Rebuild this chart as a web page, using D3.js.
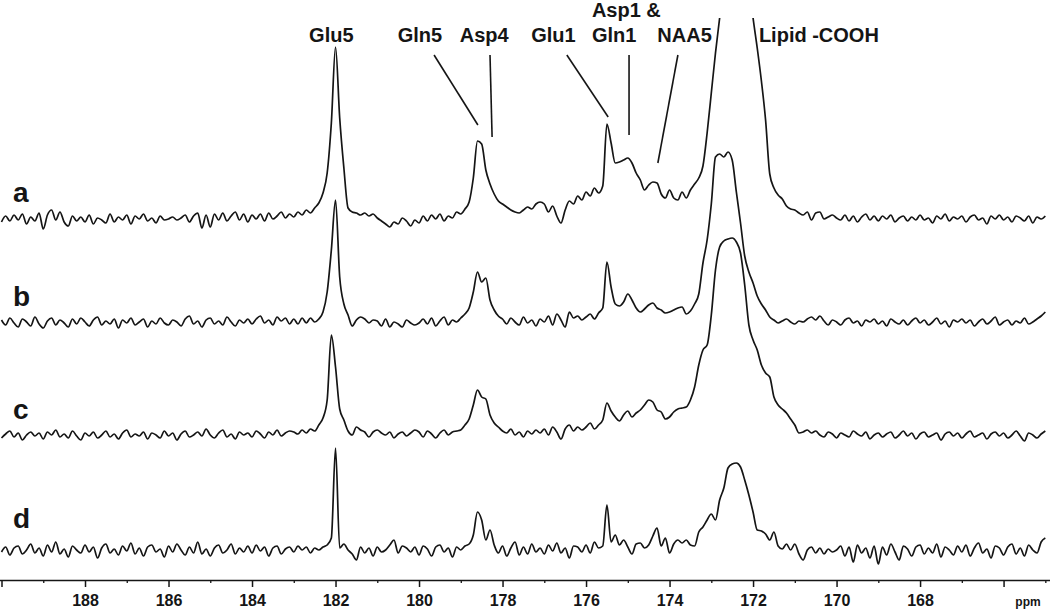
<!DOCTYPE html>
<html>
<head>
<meta charset="utf-8">
<script src="https://cdn.jsdelivr.net/npm/d3@7"></script>
<style>
  html, body { margin: 0; padding: 0; background: #fff; }
  svg { display: block; font-family: "Liberation Sans", Arial, sans-serif; }
</style>
</head>
<body>
<svg id="chart" width="1050" height="610"></svg>
<script>
// ---- Data ----
// Chemical-shift sampling grid: 190.0 ppm down to 165.0 ppm, 0.1 ppm steps
const ppmStart = 190.0;
const ppmStep = 0.1;

// Intensities (arbitrary units above each trace's baseline)
const traceA = [
  -4, 2, -3, 3, -2, 4, -6, 1, -3, 5,
  -11, 3, 8, -2, 6, -4, -8, 2, -3, 1,
  -4, 3, -6, 0, -2, -5, 4, -4, 1, -2,
  3, -6, 2, -1, 4, -3, 0, -5, 2, -2,
  -1, 1, -2, 0, 3, -4, 2, 5, -10, 3,
  -9, 4, -2, 5, -3, 2, 6, -2, 4, -4,
  3, -1, 4, -3, 5, -1, 2, 6, 0, 4,
  1, 6, 3, 8, 5, 10, 15, 25, 45, 95,
  171, 100, 50, 10, 6, 5, 3, 5, 2, 4,
  0, -3, -6, -9, -4, -6, 0, -3, -8, -2,
  -5, 2, -3, 3, -1, 4, -3, 2, 0, 6,
  4, 9, 16, 40, 77, 74, 48, 34, 24, 17,
  14, 11, 8, 6, 5, 8, 11, 9, 14, 16,
  14, 6, 12, 2, -5, 8, 17, 14, 22, 18,
  26, 22, 30, 25, 32, 94, 75, 55, 56, 58,
  60, 55, 45, 38, 28, 33, 36, 35, 24, 20,
  28, 20, 18, 26, 20, 28, 34, 40, 52, 85,
  125, 165, 200, 235, 270, 290, 300, 285, 265, 235,
  200, 170, 137, 98, 44, 30, 23, 19, 12, 9,
  8, 5, 3, 6, -2, 5, 6, -1, 1, 3,
  0, -2, 3, -3, 2, -4, 1, 4, -2, 2,
  -3, 2, -1, 3, -4, 0, 2, -3, 1, -2,
  3, -2, 0, -5, 2, -1, 4, -3, 1, -1,
  2, -4, 1, 3, -2, 0, -6, 2, -1, 3,
  -2, 1, -4, 2, 0, -3, 2, -5, 1, -1, 2
];
const traceB = [
  2, -3, 4, -1, -5, 3, 0, -4, 5, -2,
  -6, 1, 4, -3, 2, -1, -5, 3, -2, 4,
  0, -4, 2, 5, -3, 1, -2, 3, -6, 2,
  -1, 4, -3, 0, 3, -5, 1, -2, 4, -1,
  -3, 2, 0, -4, 3, 6, -2, 1, -5, 2,
  4, -2, 1, -3, 5, 0, -4, 2, -1, 3,
  -2, 3, 6, -1, 2, -3, 5, 1, 4, -2,
  3, -2, 4, -1, 4, 0, 3, 10, 30, 72,
  122, 45, 18, 7, -4, 2, 5, 3, -1, 2,
  1, -4, 3, -5, 0, -2, -5, 2, -1, -3,
  -1, 3, -2, 4, -4, 1, 5, -3, 2, 0,
  4, 8, 14, 30, 50, 40, 44, 22, 12, 6,
  3, -2, 4, 0, -3, 5, -1, 2, -4, 3,
  0, 6, -3, 8, 2, -5, 10, 4, 6, 2,
  5, 8, 3, 9, 14, 60, 35, 18, 16, 20,
  28, 22, 14, 10, 13, 17, 19, 14, 12, 9,
  10, 12, 14, 15, 8, 11, 18, 28, 59, 82,
  118, 165, 168, 165, 170, 162, 130, 99, 66, 50,
  39, 26, 18, 12, 5, 2, -1, 1, 3, 0,
  -2, 1, 0, 3, 5, 2, 6, 1, -3, 2,
  0, -3, 2, 4, -1, 1, -4, 2, 0, 3,
  -2, 1, -4, 3, 0, -2, 2, -3, 1, 4,
  -1, 2, -3, 0, 4, -2, 1, -5, 2, 0,
  3, -1, 2, -4, 0, 3, -2, 1, 5, -3,
  0, 2, -3, 1, -1, 4, -2, 0, 3, 6, 10
];
const traceC = [
  -3, 1, 4, -2, 2, -5, 0, 3, -1, 2,
  -4, 3, 0, 5, -2, 1, -3, 4, -1, -5,
  2, -1, 3, -3, 0, 4, -2, 1, -4, 2,
  5, -2, 1, -1, 3, -4, 2, 0, -3, 4,
  -1, 2, -5, 1, 4, -2, 0, 3, -1, 6,
  0, -3, 2, 5, -2, 1, -4, 3, 0, 2,
  -2, 4, 1, -3, 3, 0, 5, -1, 2, 4,
  3, 1, 5, 2, 6, 4, 10, 17, 35, 100,
  68, 26, 15, 4, 0, 8, 5, 3, -2, 3,
  5, 2, 0, 3, -3, 1, 3, -1, 2, 5,
  3, -2, 4, 1, -3, 2, 5, 0, 3, 4,
  5, 10, 16, 30, 45, 38, 36, 20, 12, 8,
  4, 2, 6, 0, 3, -2, 4, 1, 5, 2,
  6, 0, 8, 3, -4, 6, 10, 4, 8, 5,
  8, 12, 6, 10, 15, 32, 24, 18, 14, 20,
  24, 18, 22, 25, 30, 35, 33, 25, 23, 16,
  18, 23, 26, 27, 28, 35, 48, 70, 85, 90,
  120, 165, 188, 194, 196, 197, 193, 182, 150, 110,
  95, 85, 70, 62, 58, 38, 30, 26, 22, 16,
  10, 2, 3, 5, 2, 4, 0, -2, 3, 1,
  -3, 2, 0, -2, 4, 1, -1, 3, -4, 0,
  2, -2, 1, 3, -3, 0, 4, -1, 2, -4,
  1, 3, -2, 0, 2, -5, 1, 3, -1, 2,
  -3, 1, 4, -2, 0, 2, -4, 1, 3, -1,
  2, -3, 0, 4, -1, -6, 2, 0, -3, 1, 4
];
const traceD = [
  -2, 3, -5, 2, 4, -4, 0, 6, -3, 2,
  -6, 5, -2, 8, -4, 1, -7, 4, 0, -3,
  5, -2, 3, -8, 2, 6, -3, 1, -5, 4,
  -1, 7, -4, 2, -6, 3, 5, -2, 1, -7,
  4, -2, 6, 0, -5, 3, -3, 8, -4, 1,
  -6, 2, 5, -3, 0, 6, -4, 2, -2, 4,
  -3, 5, -1, 3, -6, 2, 4, -4, 1, 3,
  -2, 4, 0, 3, -3, 2, 0, 3, 5, 12,
  102, 2, 6, 0, -4, -10, 3, -3, 2, -6,
  3, -2, 0, 5, 10, -3, 4, 2, -2, 3,
  -5, 4, 1, -6, 3, 5, -2, 2, -7, 3,
  0, 4, 6, 15, 38, 30, 10, 20, 5, -3,
  4, -6, 2, 8, -5, 3, -4, 6, -2, 2,
  -4, 5, -1, 7, -3, 2, -8, 4, 3, -2,
  5, -3, 8, 2, 4, 45, 8, 15, 5, 10,
  3, -4, 6, 7, 2, 5, 14, 22, 4, 12,
  -3, 6, 10, 7, 10, 5, 4, 18, 23, 30,
  36, 30, 50, 62, 82, 86, 87, 83, 70, 55,
  38, 20, 19, 16, 10, 18, 4, 1, 6, 0,
  6, -4, -10, 0, 3, -3, 2, -4, 1, -2,
  0, 4, -6, 3, -12, 5, -3, 2, -8, 4,
  -14, 3, -5, 6, -2, -10, 4, 1, -6, 3,
  5, -4, 2, -3, 6, -7, 3, 0, -5, 4,
  -2, 5, -6, 2, 7, -3, 1, -8, 4, 2,
  -5, 3, 6, -4, 2, -6, 5, 0, -3, 8, 12
];

const traceNames = ["a", "b", "c", "d"];
const majorTicks = [190, 188, 186, 184, 182, 180, 178, 176, 174, 172, 170, 168, 166];
const labeledTicks = [188, 186, 184, 182, 180, 178, 176, 174, 172, 170, 168];
const minorTicks = [189, 187, 185, 183, 181, 179, 177, 175, 173, 171, 169, 167, 165];

// Peak annotations: label ppm, leader top ppm, leader bottom ppm
const annotations = [
  { text: "Glu5",        ppm: 182.10, anchor: "middle" },
  { text: "Gln5",        ppm: 179.98, anchor: "middle", from: 179.64, to: 178.59, yTo: 125 },
  { text: "Asp4",        ppm: 178.44, anchor: "middle", from: 178.30, to: 178.25, yTo: 137 },
  { text: "Glu1",        ppm: 176.78, anchor: "middle", from: 176.46, to: 175.47, yTo: 117 },
  { text: "Gln1",        ppm: 175.86, anchor: "start",  from: 174.97, to: 174.97, yTo: 135 },
  { text: "NAA5",        ppm: 173.64, anchor: "middle", from: 173.80, to: 174.28, yTo: 163 },
  { text: "Lipid -COOH", ppm: 171.86, anchor: "start" }
];
const topLabel = { text: "Asp1 &", ppm: 175.86 };

// ---- Layout ----
const W = 1050, H = 610;
const axisY = 580;
const baselines = [218, 322, 435, 550];
const labelBaselines = [202, 306, 419, 528];

const svg = d3.select("#chart");
const x = d3.scaleLinear().domain([190, 164.9]).range([1.5, 1049.5]);

const traces = [traceA, traceB, traceC, traceD];

svg.append("defs").append("clipPath").attr("id", "clipTop")
  .append("rect").attr("x", 0).attr("y", 18).attr("width", W).attr("height", H);

traces.forEach((vals, k) => {
  const y = d3.scaleLinear().domain([0, 100]).range([baselines[k], baselines[k] - 100]);
  const pts = vals.map((v, i) => ({ ppm: ppmStart - i * ppmStep, v }));
  const line = d3.line()
    .x(d => x(d.ppm))
    .y(d => y(d.v))
    .curve(d3.curveMonotoneX);
  svg.append("path")
    .datum(pts)
    .attr("d", line)
    .attr("fill", "none")
    .attr("stroke", "#151515")
    .attr("stroke-width", 1.7)
    .attr("stroke-linejoin", "round")
    .attr("clip-path", k === 0 ? "url(#clipTop)" : null);

  svg.append("text")
    .attr("x", 13)
    .attr("y", labelBaselines[k])
    .attr("font-size", 28)
    .attr("font-weight", "bold")
    .attr("fill", "#151515")
    .text(traceNames[k]);
});

// Annotations
annotations.forEach(a => {
  svg.append("text")
    .attr("x", x(a.ppm))
    .attr("y", 42)
    .attr("text-anchor", a.anchor)
    .attr("font-size", 20)
    .attr("font-weight", "bold")
    .attr("fill", "#151515")
    .text(a.text);
  if (a.from !== undefined) {
    svg.append("line")
      .attr("x1", x(a.from)).attr("y1", 55)
      .attr("x2", x(a.to)).attr("y2", a.yTo)
      .attr("stroke", "#151515")
      .attr("stroke-width", 1.6);
  }
});
svg.append("text")
  .attr("x", x(topLabel.ppm))
  .attr("y", 17)
  .attr("font-size", 20)
  .attr("font-weight", "bold")
  .attr("fill", "#151515")
  .text(topLabel.text);

// Axis
const majorAxis = d3.axisBottom(x)
  .tickValues(majorTicks)
  .tickSize(7)
  .tickSizeOuter(0)
  .tickFormat(d => labeledTicks.includes(d) ? d3.format("d")(d) : "");
const gMaj = svg.append("g").attr("transform", `translate(0,${axisY})`).call(majorAxis);
gMaj.select(".domain").attr("stroke", "#151515").attr("stroke-width", 1.6)
  .attr("d", `M0,0.5H${W}`);
gMaj.selectAll(".tick line").attr("stroke", "#151515").attr("stroke-width", 1.5);
gMaj.selectAll(".tick text")
  .attr("y", 15)
  .attr("font-size", 16)
  .attr("font-weight", "bold")
  .attr("font-family", '"Liberation Sans", Arial, sans-serif')
  .attr("fill", "#151515");

const minorAxis = d3.axisBottom(x)
  .tickValues(minorTicks)
  .tickSize(3)
  .tickSizeOuter(0)
  .tickFormat("");
const gMin = svg.append("g").attr("transform", `translate(0,${axisY})`).call(minorAxis);
gMin.select(".domain").remove();
gMin.selectAll(".tick line").attr("stroke", "#151515").attr("stroke-width", 1.3);

svg.append("text")
  .attr("x", 1028)
  .attr("y", 606)
  .attr("text-anchor", "middle")
  .attr("font-size", 12)
  .attr("font-weight", "bold")
  .attr("fill", "#151515")
  .text("ppm");
</script>
</body>
</html>
